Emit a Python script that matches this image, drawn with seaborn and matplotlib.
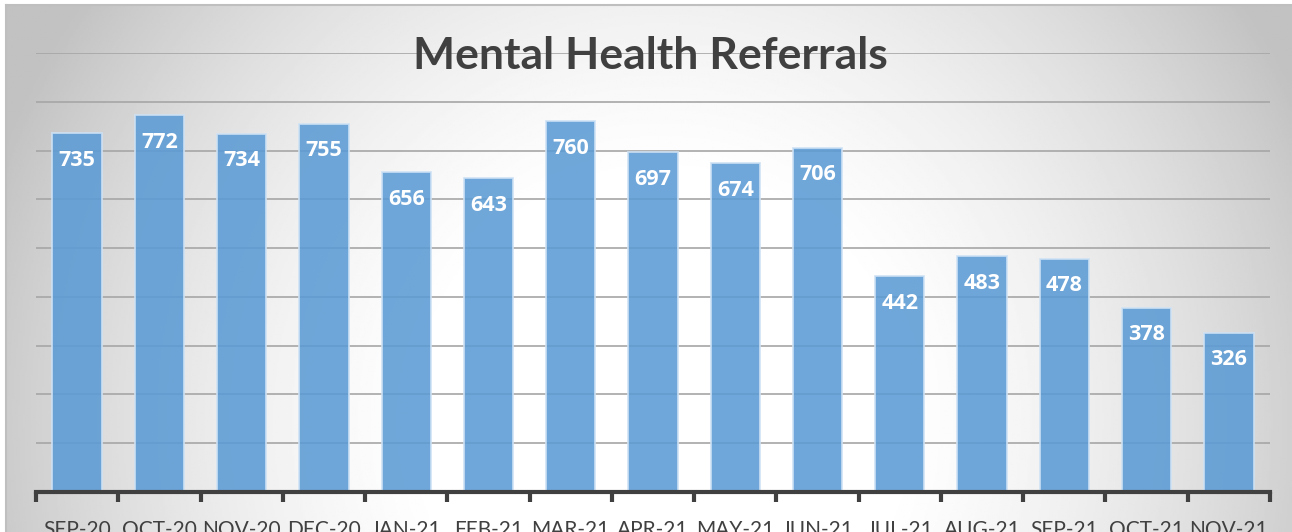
import numpy as np
import pandas as pd
import matplotlib
matplotlib.use("Agg")
import matplotlib.pyplot as plt
from matplotlib.ticker import FixedLocator
import seaborn as sns

months = ["SEP-20", "OCT-20", "NOV-20", "DEC-20", "JAN-21", "FEB-21", "MAR-21", "APR-21",
          "MAY-21", "JUN-21", "JUL-21", "AUG-21", "SEP-21", "OCT-21", "NOV-21"]
referrals = [735, 772, 734, 755, 656, 643, 760, 697, 674, 706, 442, 483, 478, 378, 326]

df = pd.DataFrame({"month": months, "referrals": referrals})

sns.set_style("white")
plt.rcParams["font.family"] = ["Lato", "DejaVu Sans"]

fig = plt.figure(figsize=(12.92, 5.32), dpi=100)

# radial grey background like the excel chart area (white spot low in the middle)
bg = fig.add_axes([6 / 1292, 0, 1 - 6 / 1292, 527 / 532], zorder=0)
yy, xx = np.mgrid[-1:1:300j, -1:1:700j]
r = np.sqrt(((xx - 0.02) / 1.0) ** 2 + ((yy - 0.58) / 2.5) ** 2)
shade = np.clip(1.03 - 0.22 * r ** 2, 0.76, 1.0)
bg.imshow(shade, cmap="gray", vmin=0, vmax=1, aspect="auto", extent=[0, 1, 0, 1])
bg.set_xticks([])
bg.set_yticks([])
for side in ["right", "bottom"]:
    bg.spines[side].set_visible(False)
for side in ["top", "left"]:
    bg.spines[side].set_color("#bfbfbf")
    bg.spines[side].set_linewidth(1.5)

ax = fig.add_axes([36 / 1292, 40 / 532, 1234 / 1292, 439 / 532], zorder=1)
ax.patch.set_alpha(0)

sns.barplot(data=df, x="month", y="referrals", color="#5B9BD5", alpha=0.88,
            saturation=1, width=0.6, edgecolor="#cfe2f5", linewidth=1.3,
            ax=ax, zorder=2)

ax.set_ylim(0, 900)
ax.set_xlim(-0.5, len(months) - 0.5)
ax.set_yticks(range(100, 1000, 100))
ax.yaxis.grid(True, color="#a6a6a6", linewidth=1.2, zorder=1)
ax.set_axisbelow(True)
ax.tick_params(axis="y", left=False, labelleft=False)

for bar, v in zip(ax.patches, referrals):
    ax.annotate(str(v), (bar.get_x() + bar.get_width() / 2, v),
                xytext=(0, -27), textcoords="offset pixels",
                ha="center", va="center", color="white", fontsize=15.5,
                fontweight="bold", family=["Open Sans", "DejaVu Sans"], zorder=5)

for side in ["top", "left", "right"]:
    ax.spines[side].set_visible(False)
ax.spines["bottom"].set_color("#404040")
ax.spines["bottom"].set_linewidth(3)

ax.xaxis.set_minor_locator(FixedLocator(np.arange(-0.5, len(months), 1)))
ax.tick_params(axis="x", which="minor", bottom=True, length=7, width=3,
               color="#404040", direction="out")
ax.tick_params(axis="x", which="major", bottom=False, length=0, pad=20,
               labelsize=15, labelcolor="#404040")
ax.set_xlabel("")
ax.set_ylabel("")

fig.text(0.503, 0.895, "Mental Health Referrals", ha="center", va="center",
         fontsize=32, fontweight="bold", color="#404040")

fig.savefig("out.png", dpi=100)
